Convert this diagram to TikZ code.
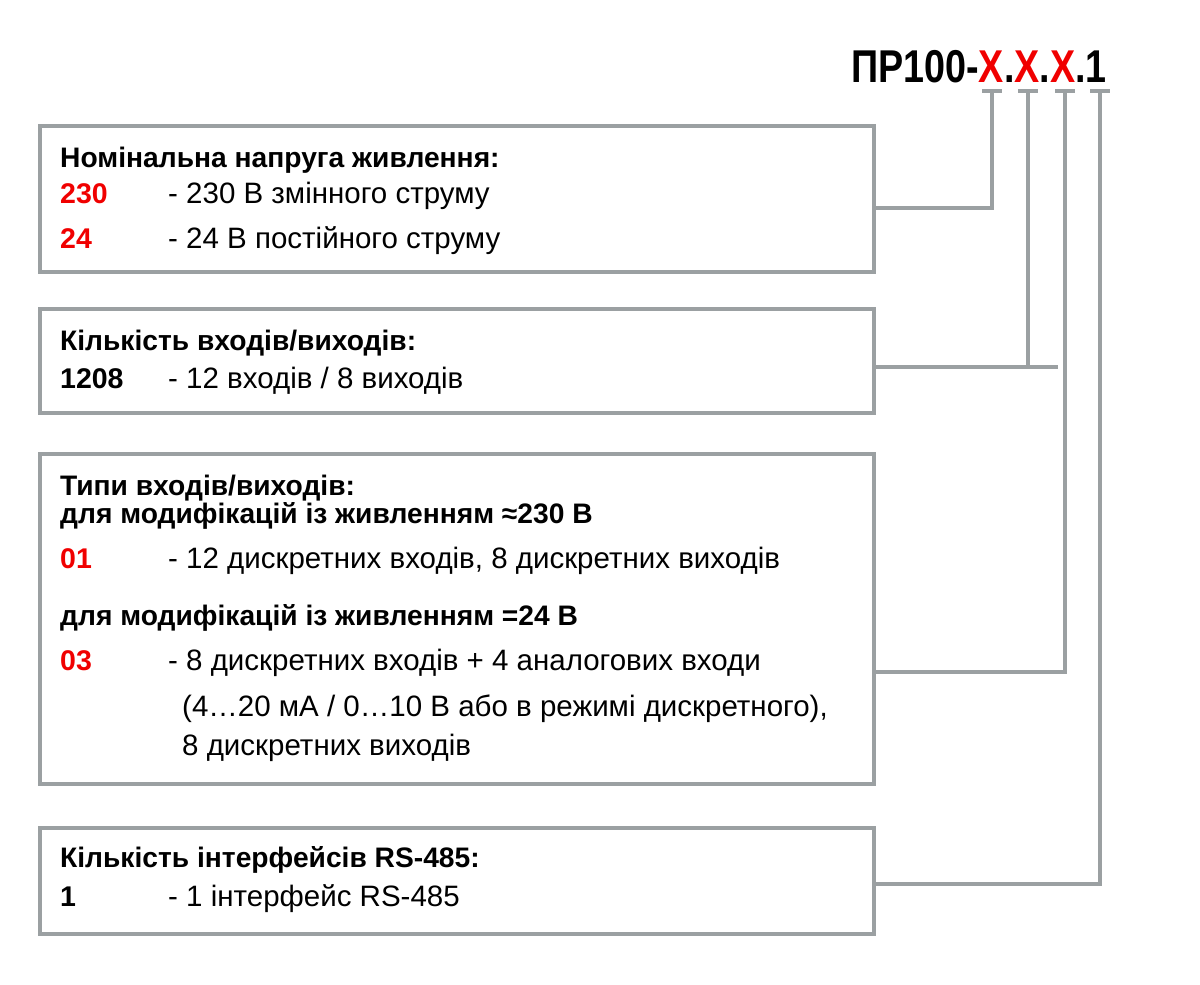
\documentclass[tikz,border=0pt]{standalone}
\usepackage{fontspec}
\setmainfont{Liberation Sans}
\newfontfamily\titlefont[FakeStretch=0.82]{Liberation Sans}
\definecolor{lgrey}{RGB}{155,160,162}
\definecolor{xred}{RGB}{240,0,0}
\tikzset{
  box/.style={draw=lgrey, line width=4pt, rectangle, anchor=north west, inner sep=0pt, outer sep=0pt},
  conn/.style={draw=lgrey, line width=4pt},
  head/.style={anchor=base west, inner sep=0pt, font=\fontsize{28.2}{32}\selectfont\bfseries},
  code/.style={anchor=base west, inner sep=0pt, font=\fontsize{28.5}{32}\selectfont\bfseries, text=xred},
  codeb/.style={anchor=base west, inner sep=0pt, font=\fontsize{28.5}{32}\selectfont\bfseries},
  desc/.style={anchor=base west, inner sep=0pt, font=\fontsize{29.5}{33}\selectfont},
}
\begin{document}
\begin{tikzpicture}[x=1pt,y=-1pt]
\useasboundingbox (0,0) rectangle (1200,985);
% title
\node[anchor=base east, inner sep=0pt, font=\fontsize{46}{50}\titlefont\bfseries] (title) at (1107,82)
  {ПР100-\textcolor{xred}{X}.\textcolor{xred}{X}.\textcolor{xred}{X}.1};
% T bars
\coordinate (t1) at (992,91);
\coordinate (t2) at (1028,91);
\coordinate (t3) at (1065,91);
\coordinate (t4) at (1100,91);
\foreach \t in {t1,t2,t3,t4}{
  \draw[conn] ([xshift=-10pt]\t) -- ([xshift=10pt]\t);
}
% boxes
\node[box, minimum width=834pt, minimum height=146pt] (b1) at (40,126) {};
\node[box, minimum width=834pt, minimum height=104pt] (b2) at (40,309) {};
\node[box, minimum width=834pt, minimum height=330pt] (b3) at (40,454) {};
\node[box, minimum width=834pt, minimum height=106pt] (b4) at (40,828) {};
% connectors
\draw[conn] ([yshift=-9pt]b1.east) -| (t1);
\coordinate (c2) at (1058,367);
\draw[conn] (b2.east |- c2) -- (c2);
\draw[conn] (t2) -- (t2 |- c2);
\draw[conn] ([yshift=-53pt]b3.east) -| (t3);
\draw[conn] ([yshift=-3pt]b4.east) -| (t4);
% box 1 text
\node[head] (h1) at (60,167) {Номінальна напруга живлення:};
\node[code] (k11) at (60,203) {230};
\node[desc] (d11) at (168,203) {- 230 В змінного струму};
\node[code] (k12) at (60,248) {24};
\node[desc] (d12) at (168,248) {- 24 В постійного струму};
% box 2 text
\node[head] (h2) at (60,350) {Кількість входів/виходів:};
\node[codeb] (k21) at (60,388) {1208};
\node[desc] (d21) at (168,388) {- 12 входів / 8 виходів};
% box 3 text
\node[head] (h3) at (60,495) {Типи входів/виходів:};
\node[head] (h3a) at (60,523) {для модифікацій із живленням ≈230 В};
\node[code] (k31) at (60,568) {01};
\node[desc] (d31) at (168,568) {- 12 дискретних входів, 8 дискретних виходів};
\node[head] (h3b) at (60,625) {для модифікацій із живленням =24 В};
\node[code] (k32) at (60,670) {03};
\node[desc] (d32) at (168,670) {- 8 дискретних входів + 4 аналогових входи};
\node[desc] (d33) at (182,716) {(4…20 мА / 0…10 В або в режимі дискретного),};
\node[desc] (d34) at (182,755) {8 дискретних виходів};
% box 4 text
\node[head] (h4) at (60,867) {Кількість інтерфейсів RS-485:};
\node[codeb] (k41) at (60,906) {1};
\node[desc] (d41) at (168,906) {- 1 інтерфейс RS-485};
\end{tikzpicture}
\end{document}
